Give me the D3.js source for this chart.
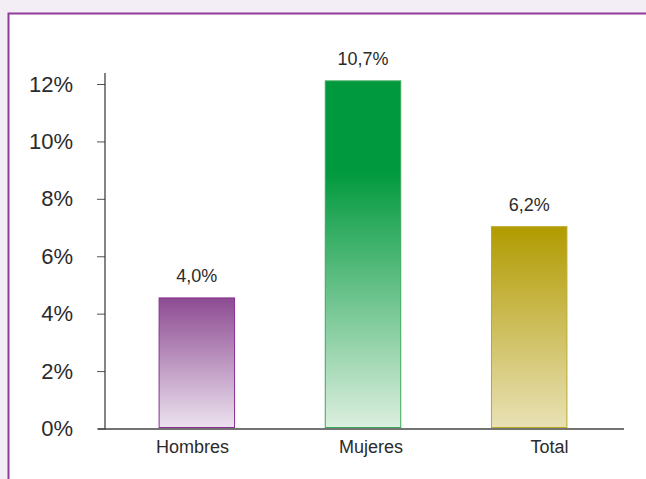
<!DOCTYPE html>
<html lang="es">
<head>
<meta charset="utf-8">
<script src="https://cdn.jsdelivr.net/npm/d3@7"></script>
<style>
  html, body { margin: 0; padding: 0; background: #f3eef6; }
  svg { display: block; }
</style>
</head>
<body>
<svg id="chart" width="646" height="479"></svg>
<script>
// Categorías y valores (porcentaje)
const categories = ["Hombres", "Mujeres", "Total"];
const values = [4.0, 10.7, 6.2];
const valueLabels = ["4,0%", "10,7%", "6,2%"];
const yTicks = [0, 2, 4, 6, 8, 10, 12];

// Colores de cada barra: [arriba, abajo, borde, fin del tramo sólido]
const barColors = [
  { top: "#8d4b92", bottom: "#ece2ef", stroke: "#8a2f93", solid: 0.0 },
  { top: "#00993d", bottom: "#dcefdf", stroke: "#3aa85a", solid: 0.26 },
  { top: "#b19b00", bottom: "#e9e1b6", stroke: "#bba72a", solid: 0.0 }
];

const svg = d3.select("#chart");
const font = "'Liberation Sans', Arial, sans-serif";
const textColor = "#2b2b2b";

// Marco blanco con borde morado
svg.append("rect")
  .attr("x", 8.5).attr("y", 13.5)
  .attr("width", 700).attr("height", 520)
  .attr("fill", "#ffffff")
  .attr("stroke", "#8e3c98")
  .attr("stroke-width", 2);

const axisX = 105, baseY = 428.5, topY = 84;

// Escala del eje (0–12 %)
const y = d3.scaleLinear().domain([0, 12]).range([baseY, topY]);
// Escala de las barras
const yBar = d3.scaleLinear().domain([0, 10.65]).range([427.5, 82.5]);

// Posición de las barras y de las etiquetas de categoría
const xBar = d3.scaleBand().domain(categories)
  .range([76, 650]).paddingInner(0.546).paddingOuter(0.5);
const xLab = d3.scalePoint().domain(categories)
  .range([102.75, 638.25]).padding(0.5);

// Degradados
const defs = svg.append("defs");
barColors.forEach((c, i) => {
  const g = defs.append("linearGradient")
    .attr("id", "grad" + i)
    .attr("x1", 0).attr("y1", 0).attr("x2", 0).attr("y2", 1);
  g.append("stop").attr("offset", 0).attr("stop-color", c.top);
  if (c.solid > 0) g.append("stop").attr("offset", c.solid).attr("stop-color", c.top);
  g.append("stop").attr("offset", 1).attr("stop-color", c.bottom);
});

// Barras
const data = categories.map((c, i) => ({ cat: c, v: values[i], label: valueLabels[i], i }));
svg.append("g").selectAll("rect")
  .data(data).join("rect")
  .attr("x", d => xBar(d.cat))
  .attr("width", xBar.bandwidth())
  .attr("y", d => yBar(d.v))
  .attr("height", d => yBar(0) - yBar(d.v))
  .attr("fill", d => `url(#grad${d.i})`)
  .attr("stroke", d => barColors[d.i].stroke)
  .attr("stroke-width", 1);

// Etiquetas de valor
svg.append("g").selectAll("text")
  .data(data).join("text")
  .attr("x", d => xBar(d.cat) + xBar.bandwidth() / 2)
  .attr("y", d => yBar(d.v) - 16)
  .attr("text-anchor", "middle")
  .attr("font-family", font)
  .attr("font-size", 18)
  .attr("fill", textColor)
  .text(d => d.label);

// Eje vertical
const yAxis = d3.axisLeft(y)
  .tickValues(yTicks)
  .tickFormat(d => d + "%")
  .tickSize(8)
  .tickPadding(24);
const gy = svg.append("g")
  .attr("transform", `translate(${axisX},0)`)
  .call(yAxis);
gy.select(".domain").remove();
gy.selectAll(".tick line").attr("stroke", "#555");
gy.selectAll(".tick text")
  .attr("font-family", font)
  .attr("font-size", 22)
  .attr("fill", textColor);
gy.append("line")
  .attr("x1", 0).attr("x2", 0)
  .attr("y1", 73).attr("y2", baseY + 1)
  .attr("stroke", "#333").attr("stroke-width", 1.2);

// Línea base
svg.append("line")
  .attr("x1", 98).attr("x2", 624)
  .attr("y1", baseY + 0.5).attr("y2", baseY + 0.5)
  .attr("stroke", "#444").attr("stroke-width", 1.4);

// Etiquetas de categoría
const xAxis = d3.axisBottom(xLab).tickSize(0).tickPadding(12);
const gx = svg.append("g")
  .attr("transform", `translate(0,${baseY})`)
  .call(xAxis);
gx.select(".domain").remove();
gx.selectAll(".tick text")
  .attr("font-family", font)
  .attr("font-size", 18)
  .attr("fill", textColor);
</script>
</body>
</html>
